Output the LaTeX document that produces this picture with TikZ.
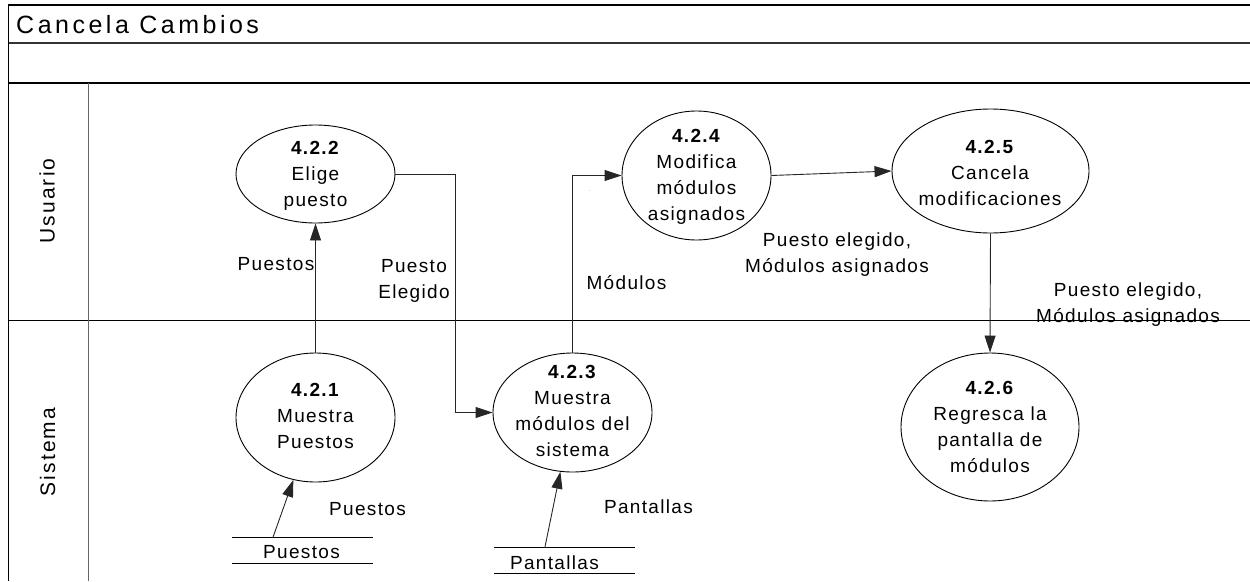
\documentclass[tikz,border=0pt]{standalone}
\usepackage{fontspec}
\setmainfont{Liberation Sans}[LetterSpace=7]
\newfontfamily\titlefont{Liberation Sans}[LetterSpace=14]
\newfontfamily\lanefont{Liberation Sans}[LetterSpace=10]
\usetikzlibrary{arrows.meta,shapes.geometric,calc}
\begin{document}
\begin{tikzpicture}[x=1pt,y=-1pt,
  proc/.style={draw=black,line width=0.9pt,ellipse,inner sep=0pt},
  ptext/.style={align=center,inner sep=0pt,anchor=north,font=\fontsize{19}{26}\selectfont},
  lbl/.style={inner sep=0pt,font=\fontsize{19}{26}\selectfont},
  lanelbl/.style={inner sep=0pt,rotate=90,font=\lanefont\fontsize{21}{24}\selectfont},
  flow/.style={draw=black!85,line width=0.9pt,-{Triangle[length=17pt,width=11pt]}},
  store/.style={inner sep=0pt,minimum width=141pt,minimum height=25pt},
  frame/.style={draw=black,line width=1.3pt},
  thinframe/.style={draw=black!60,line width=1pt}
]
\useasboundingbox (0,0) rectangle (1250,581);

% frame
\draw[frame] (8.5,581) -- (8.5,5) -- (1250,5);
\draw[draw=black!80,line width=2pt] (8.5,43) -- (1250,43);
\draw[frame] (8.5,83) -- (1250,83);
\draw[draw=black,line width=1pt] (8.5,320) -- (1250,320);
\draw[thinframe] (88,83) -- (88,581);

\node[inner sep=0pt,anchor=base west,font=\titlefont\fontsize{25}{28}\selectfont] (title) at (16,33) {Cancela Cambios};
\node[lanelbl] (lane1) at (47,201) {Usuario};
\node[lanelbl] (lane2) at (47.5,452) {Sistema};

% processes
\node[proc,minimum width=159pt,minimum height=98pt] (p2) at (315.5,174) {};
\node[proc,minimum width=149pt,minimum height=129pt] (p4) at (696.5,175.5) {};
\node[proc,minimum width=197pt,minimum height=124pt] (p5) at (990.5,171) {};
\node[proc,minimum width=178pt,minimum height=148pt] (p6) at (990,427) {};
\node[proc,minimum width=159pt,minimum height=129pt] (p1) at (315.5,417.5) {};
\node[proc,minimum width=159pt,minimum height=119pt] (p3) at (572.5,412.5) {};

\node[ptext] (t2) at (315.5,141.4) {\textbf{4.2.2}\\Elige\\puesto};
\node[ptext] (t4) at (696.5,129.4) {\textbf{4.2.4}\\Modifica\\módulos\\asignados};
\node[ptext] (t5) at (990,140.4) {\textbf{4.2.5}\\Cancela\\modificaciones};
\node[ptext] (t6) at (990,381.4) {\textbf{4.2.6}\\Regresca la\\pantalla de\\módulos};
\node[ptext] (t1) at (315.5,383.4) {\textbf{4.2.1}\\Muestra\\Puestos};
\node[ptext] (t3) at (572.5,365.4) {\textbf{4.2.3}\\Muestra\\módulos del\\sistema};

% data stores
\node[store] (ds1) at (302.5,550.5) {};
\node[store] (ds2) at (564.5,560.5) {};
\draw[draw=black,line width=1pt] (ds1.north west) -- (ds1.north east);
\draw[draw=black,line width=1pt] (ds1.south west) -- (ds1.south east);
\draw[draw=black,line width=1pt] (ds2.north west) -- (ds2.north east);
\draw[draw=black,line width=1pt] (ds2.south west) -- (ds2.south east);
\node[lbl,anchor=base] (ds1t) at (301.5,558) {Puestos};
\node[lbl,anchor=base] (ds2t) at (554.5,569) {Pantallas};

\coordinate (a1) at ($(ds1.north west)+(41,0)$);
\coordinate (a2) at ($(ds2.north west)+(51,0)$);

% flows
\draw[flow] (p1.north) -- (p2.south);
\draw[flow] (p2.east) -- ++(60,0) |- (p3.west);
\draw[flow] (p3.north) |- (p4.west);
\draw[flow] (p4.east) -- (p5.west);
\draw[flow] (p5.south) -- (p6.north);
\draw[flow] (a1) -- (p1);
\draw[flow] (a2) -- (p3);

% labels
\node[lbl,anchor=base] (l1) at (276,270) {Puestos};
\node[lbl,align=center,anchor=north] (l2) at (414,259.4) {Puesto\\Elegido};
\node[lbl,anchor=base] (l3) at (626.5,289) {Módulos};
\node[lbl,align=center,anchor=north] (l4) at (837,232.1) {Puesto elegido,\\Módulos asignados};
\node[lbl,align=center,anchor=north] (l5) at (1128,282.1) {Puesto elegido,\\Módulos asignados};
\node[lbl,anchor=base] (l6) at (367.5,515) {Puestos};
\node[lbl,anchor=base] (l7) at (648.5,513) {Pantallas};
\node[inner sep=0pt,font=\fontsize{5}{5}\selectfont,text=black!60] (dot) at (590,191) {.};
\end{tikzpicture}
\end{document}
